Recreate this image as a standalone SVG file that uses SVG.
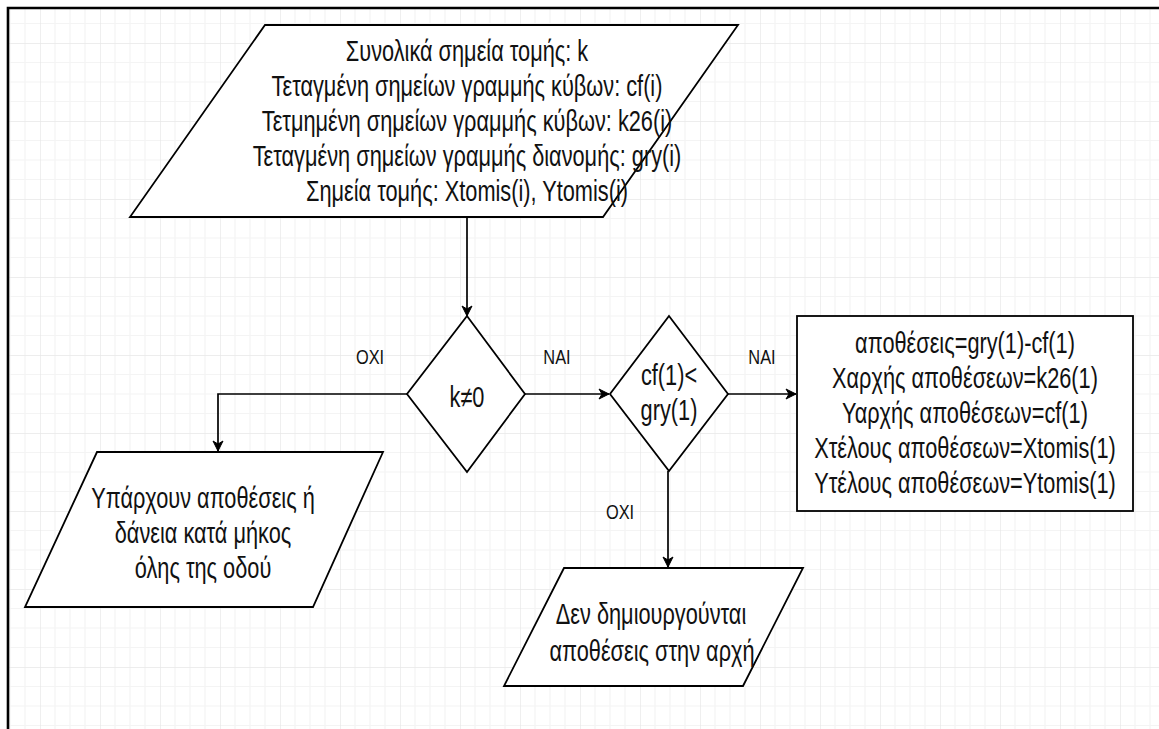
<svg xmlns="http://www.w3.org/2000/svg" width="1159" height="729" viewBox="0 0 1159 729">
<style>
.shape{fill:#ffffff;stroke:#000000;stroke-width:1.8;stroke-linejoin:miter}
.conn{fill:none;stroke:#000000;stroke-width:1.7}
.t{font-family:"Liberation Sans",Arial,"DejaVu Sans",sans-serif;font-size:29px;fill:#111111;text-anchor:middle}
.lbl{font-family:"Liberation Sans",Arial,"DejaVu Sans",sans-serif;font-size:21px;fill:#111111;text-anchor:middle}
</style>
<defs>
<pattern id="grid" patternUnits="userSpaceOnUse" x="40" y="43" width="60" height="78">
<path d="M15,0V78M30,0V78M45,0V78M0,19.5H60M0,39H60M0,58.5H60" stroke="#f4f4f4" stroke-width="1.2" fill="none"/>
<path d="M0,0V78M0,0H60" stroke="#e8e8e8" stroke-width="1.4" fill="none"/>
</pattern>
<marker id="arr" viewBox="0 0 12 12" refX="11" refY="6" markerWidth="12" markerHeight="12" markerUnits="userSpaceOnUse" orient="auto">
<path d="M1,1 L11,6 L1,11 L4,6 z" fill="#000000" stroke="#000000" stroke-width="1"/>
</marker>
</defs>
<rect x="0" y="0" width="1159" height="729" fill="#ffffff"/>
<rect x="9" y="9" width="1150" height="720" fill="url(#grid)"/>
<path d="M8,729V8H1159" fill="none" stroke="#000000" stroke-width="2.6"/>

<g id="connectors">
<path class="conn" d="M467,217V316" marker-end="url(#arr)"/>
<path class="conn" d="M407,394H218V451" marker-end="url(#arr)"/>
<path class="conn" d="M525,394H609" marker-end="url(#arr)"/>
<path class="conn" d="M728,394H796" marker-end="url(#arr)"/>
<path class="conn" d="M668,471V567" marker-end="url(#arr)"/>
<text class="lbl" transform="translate(370,364) scale(0.78,1)">OXI</text>
<text class="lbl" transform="translate(557,364) scale(0.78,1)">NAI</text>
<text class="lbl" transform="translate(762,364) scale(0.78,1)">NAI</text>
<text class="lbl" transform="translate(620,519) scale(0.78,1)">OXI</text>
</g>

<g id="input">
<polygon class="shape" points="265,25 738,25 603,217 130,217"/>
<text class="t" transform="translate(467,61) scale(0.75,1)">Συνολικά σημεία τομής: k</text>
<text class="t" transform="translate(467,96) scale(0.75,1)">Τεταγμένη σημείων γραμμής κύβων: cf(i)</text>
<text class="t" transform="translate(467,131) scale(0.75,1)">Τετμημένη σημείων γραμμής κύβων: k26(i)</text>
<text class="t" transform="translate(467,166) scale(0.75,1)">Τεταγμένη σημείων γραμμής διανομής: gry(i)</text>
<text class="t" transform="translate(467,201) scale(0.75,1)">Σημεία τομής: Xtomis(i), Ytomis(i)</text>
</g>

<g id="decision-k">
<polygon class="shape" points="467,316 525,394 467,472 407,394"/>
<text class="t" transform="translate(467,407) scale(0.75,1)">k≠0</text>
</g>

<g id="decision-cf">
<polygon class="shape" points="669,316 728,394 669,471 610,394"/>
<text class="t" transform="translate(669,385) scale(0.75,1)">cf(1)&lt;</text>
<text class="t" transform="translate(669,420) scale(0.75,1)">gry(1)</text>
</g>

<g id="process">
<rect class="shape" x="797" y="316" width="336" height="195"/>
<text class="t" transform="translate(965,353) scale(0.75,1)">αποθέσεις=gry(1)-cf(1)</text>
<text class="t" transform="translate(965,388) scale(0.75,1)">Χαρχής αποθέσεων=k26(1)</text>
<text class="t" transform="translate(965,423) scale(0.75,1)">Υαρχής αποθέσεων=cf(1)</text>
<text class="t" transform="translate(965,458) scale(0.75,1)">Χτέλους αποθέσεων=Xtomis(1)</text>
<text class="t" transform="translate(965,493) scale(0.75,1)">Υτέλους αποθέσεων=Ytomis(1)</text>
</g>

<g id="output-all">
<polygon class="shape" points="97,452 383,452 313,607 25,607"/>
<text class="t" transform="translate(203,508) scale(0.75,1)">Υπάρχουν αποθέσεις ή</text>
<text class="t" transform="translate(203,543) scale(0.75,1)">δάνεια κατά μήκος</text>
<text class="t" transform="translate(203,578) scale(0.75,1)">όλης της οδού</text>
</g>

<g id="output-none">
<polygon class="shape" points="564,568 803,568 743,686 504,686"/>
<text class="t" transform="translate(651,624) scale(0.75,1)">Δεν δημιουργούνται</text>
<text class="t" transform="translate(652,661) scale(0.75,1)">αποθέσεις στην αρχή</text>
</g>
</svg>
